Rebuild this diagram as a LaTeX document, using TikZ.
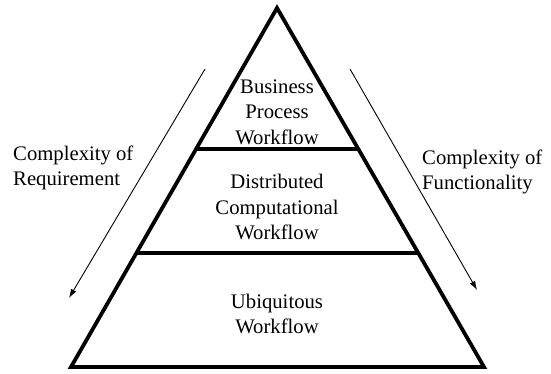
\documentclass[tikz,border=0pt]{standalone}
\usepackage{fontspec}
\setmainfont{Liberation Serif}
\usetikzlibrary{arrows.meta}
\begin{document}
\begin{tikzpicture}[x=1pt,y=-1pt,
  frame/.style={line width=3.8pt,line join=miter},
  tier/.style={line width=3.5pt},
  lbl/.style={font=\fontsize{20.7}{25.5}\selectfont,align=center,inner sep=0pt},
  sidelbl/.style={font=\fontsize{20.7}{24.5}\selectfont,align=left,inner sep=0pt},
  trend/.style={line width=0.9pt,-{Latex[length=9pt,width=6pt]}}]
\useasboundingbox (0,0) rectangle (551,374);
\coordinate (apex) at (277,8);
\coordinate (bl) at (71,367);
\coordinate (br) at (484,367);
\draw[frame] (apex) -- (bl) -- (br) -- cycle;
\path (apex) -- (bl) coordinate[pos=0.3928] (t1l) coordinate[pos=0.6825] (t2l);
\path (apex) -- (br) coordinate[pos=0.3928] (t1r) coordinate[pos=0.6825] (t2r);
\draw[tier] (t1l) -- (t1r);
\draw[tier] (t2l) -- (t2r);
\node[lbl] (bpw) at (277,112) {Business\\Process\\Workflow};
\node[lbl] (dcw) at (277,207) {Distributed\\Computational\\Workflow};
\node[lbl] (uw) at (277,314) {Ubiquitous\\Workflow};
\coordinate (la) at (205,69);
\coordinate (lb) at (69,298);
\coordinate (ra) at (350,69);
\coordinate (rb) at (477,290);
\draw[trend] (la) -- (lb);
\draw[trend] (ra) -- (rb);
\node[sidelbl,anchor=west] (cr) at (13,168) {Complexity of\\Requirement};
\node[sidelbl,anchor=west] (cf) at (422,172) {Complexity of\\Functionality};
\end{tikzpicture}
\end{document}
